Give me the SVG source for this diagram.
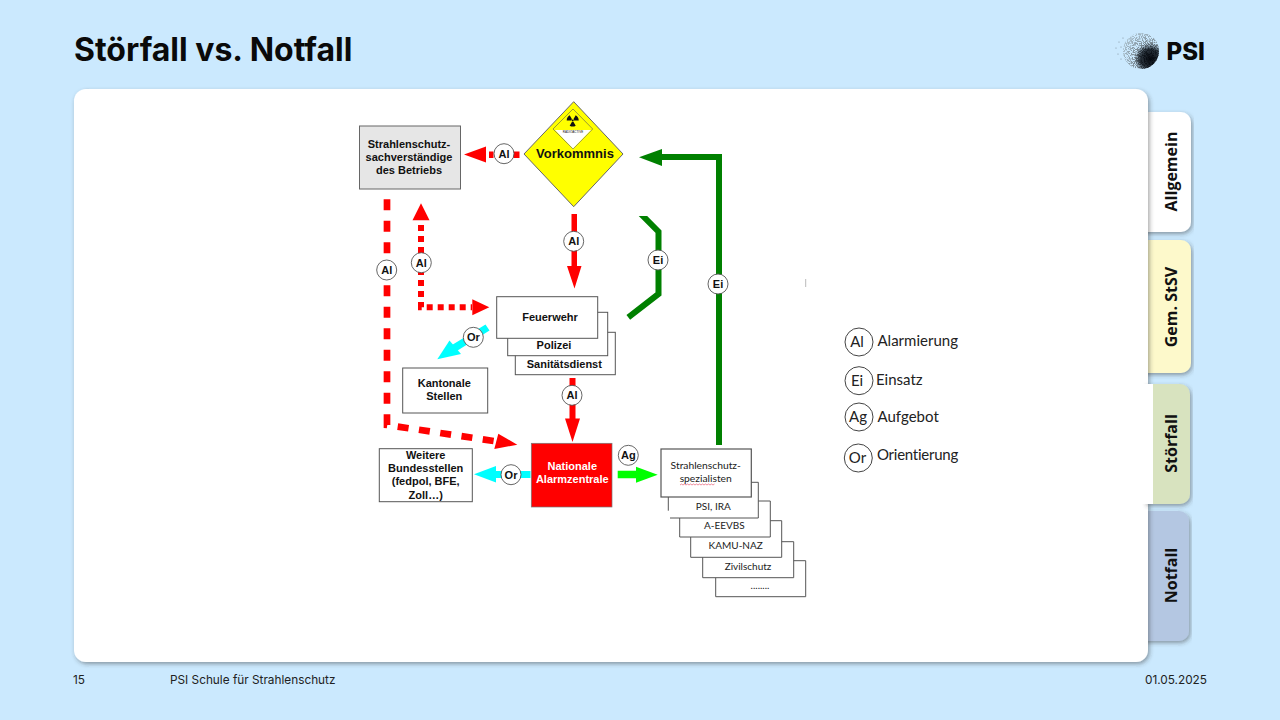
<svg xmlns="http://www.w3.org/2000/svg" width="1280" height="720" viewBox="0 0 1280 720">
<style>
.d{font-family:"Liberation Sans",Arial,sans-serif;font-weight:700;font-size:11px;fill:#111;text-anchor:middle}
.l{font-family:Lato,"Open Sans",sans-serif;fill:#222;font-size:10px;text-anchor:middle}
.leg{font-family:Lato,"Open Sans",sans-serif;fill:#222;font-size:15px}
.legc{font-family:Lato,"Open Sans",sans-serif;fill:#222;font-size:15px;text-anchor:middle}
.tab{font-family:"Open Sans","Noto Sans",sans-serif;font-weight:700;font-size:16px;fill:#111;text-anchor:middle}
.foot{font-family:Inter,"Liberation Sans",sans-serif;font-size:11.8px;fill:#222}
.box{fill:#fff;stroke:#555;stroke-width:1}
.badge{fill:#fff;stroke:#555;stroke-width:.9}
.lc{fill:none;stroke:#444;stroke-width:1}
</style>
<defs>
<filter id="sh" x="-5%" y="-5%" width="110%" height="110%"><feDropShadow dx="1.5" dy="2" stdDeviation="2" flood-color="#333" flood-opacity=".45"/></filter>
<filter id="stipple" x="0" y="0" width="100%" height="100%"><feTurbulence type="fractalNoise" baseFrequency="1.1" numOctaves="1" seed="4"/><feColorMatrix values="0 0 0 0 0 0 0 0 0 0 0 0 0 0 0 0 0 0 9 -4"/><feComposite in="SourceGraphic" operator="in"/></filter>
<radialGradient id="ball" cx=".76" cy=".72" r=".8"><stop offset="0" stop-color="#05080e"/><stop offset=".2" stop-color="#141c24"/><stop offset=".5" stop-color="#76858f"/><stop offset="1" stop-color="#a9bfcc"/></radialGradient>
<radialGradient id="ballcore" cx=".76" cy=".72" r=".45"><stop offset="0" stop-color="#05080e"/><stop offset=".6" stop-color="#10161d" stop-opacity=".85"/><stop offset="1" stop-color="#10161d" stop-opacity="0"/></radialGradient>
<clipPath id="eiclip"><rect x="620" y="216" width="50" height="110"/></clipPath>
<path id="blade" d="M-3 5.2A6 6 0 0 0 3 5.2L.7 1.2A1.4 1.4 0 0 1-.7 1.2Z" fill="#111"/>
</defs>
<rect width="1280" height="720" fill="#cbe9fe"/>
<text x="74" y="61" style="font-family:Inter,'Liberation Sans',sans-serif;font-weight:700;font-size:32px;fill:#0a0a0a">Störfall vs. Notfall</text>
<g id="logo">
<circle cx="1141" cy="51" r="18" fill="url(#ball)" filter="url(#stipple)"/>
<circle cx="1141" cy="51" r="18" fill="url(#ballcore)"/>
<g fill="#7f8f9c"><circle cx="1116" cy="48" r=".6"/><circle cx="1119" cy="42" r=".6"/><circle cx="1118" cy="54" r=".6"/><circle cx="1121" cy="59" r=".6"/><circle cx="1121" cy="47" r=".6"/><circle cx="1123" cy="38" r=".6"/></g>
<text x="1166.5" y="60" style="font-family:Inter,'Liberation Sans',sans-serif;font-weight:800;font-size:24px;fill:#0a0a0a">PSI</text>
</g>
<g id="tabs">
<path d="M1140 112H1181a10 10 0 0 1 10 10V222a10 10 0 0 1-10 10H1140Z" fill="#fff" filter="url(#sh)"/>
<path d="M1140 240H1181a10 10 0 0 1 10 10V363a10 10 0 0 1-10 10H1140Z" fill="#fdf9cb" filter="url(#sh)"/>
<path d="M1140 511H1179a10 10 0 0 1 10 10V631a10 10 0 0 1-10 10H1140Z" fill="#b4c7e2" filter="url(#sh)"/>
<text class="tab" transform="translate(1177 171.5) rotate(-90)">Allgemein</text>
<text class="tab" transform="translate(1177 307) rotate(-90)">Gem. StSV</text>
<text class="tab" transform="translate(1177 575.5) rotate(-90)">Notfall</text>
</g>
<rect id="panel" x="74" y="89" width="1074" height="573" rx="12" fill="#fff" filter="url(#sh)"/>
<g id="tab-stoerfall">
<path d="M1145 384H1180a10 10 0 0 1 10 10V494a10 10 0 0 1-10 10H1145Z" fill="#d8e3bf" filter="url(#sh)"/>
<rect x="1140" y="384" width="13" height="120" fill="#fff"/>
<text class="tab" transform="translate(1177 443.5) rotate(-90)">Störfall</text>
</g>
<g id="connectors">
<g fill="#f00">
<rect x="489" y="151.5" width="4.5" height="6.5"/><rect x="513" y="151.5" width="6.5" height="6.5"/>
<path d="M464 154.5L486 146.5V162.5Z"/>
<path d="M571.5 214H577V266H581.5L574.5 288.5L567 266H571.5Z"/>
<path d="M569.5 378H575.5V418.5H580L572.5 442L565 418.5H569.5Z"/>
<path d="M421 203.3L429.5 220.3H412.5Z"/>
<path d="M489.3 307.3L472.3 299.3V315.3Z"/>
<path d="M517.3 444.7L498.3 433.7L494.3 449Z"/>
</g>
<path d="M387 199.3V425L497 441.5" fill="none" stroke="#f00" stroke-width="6.7" stroke-dasharray="11 10.5"/>
<path d="M421 225V307.3H472" fill="none" stroke="#f00" stroke-width="6" stroke-dasharray="6 5"/>
<g fill="#0ff">
<path d="M485.5 324.5L452 345L456 351.5L489.5 330.5Z"/>
<path d="M437.3 359.3L461 354L449.5 340.5Z"/>
<path d="M474 474.3L496 466V471H530.5V478H496V482.5Z"/>
</g>
<path d="M617.7 470.7H636V466.7L657.7 474.7L636 482.7V478.3H617.7Z" fill="#0f0"/>
<g fill="none" stroke="#008000" stroke-width="6">
<path d="M719 445V157H660"/>
<path d="M638 211L658.5 231.7V294L628.3 317.3" clip-path="url(#eiclip)"/>
</g>
<path d="M639 157.3L662 149V166Z" fill="#008000"/>
<path d="M805.7 279V287" stroke="#bbb" stroke-width="1"/>
</g>
<g id="node-vorkommnis">
<path d="M573.7 101.7L623 154L573.7 206.7L524 154Z" fill="#ff0" stroke="#666"/>
<path d="M573 109L592.7 129L573 149L553 129Z" fill="#ff0" stroke="#555" stroke-width=".6"/>
<path d="M555 130H591L573 148.5Z" fill="#fff"/>
<g transform="translate(572.7 120.5)"><use href="#blade"/><use href="#blade" transform="rotate(120)"/><use href="#blade" transform="rotate(240)"/><circle r="1" fill="#111"/></g>
<text class="d" x="573" y="133" style="font-size:3px;font-weight:400">RADIOACTIVE</text>
<text class="d" x="575" y="157.7" style="font-size:13px">Vorkommnis</text>
</g>
<g id="node-sachverstaendige">
<rect x="359.5" y="126" width="101" height="63" fill="#e6e6e6" stroke="#666"/>
<text class="d" x="409" y="148.3">Strahlenschutz-</text>
<text class="d" x="409" y="161.3">sachverständige</text>
<text class="d" x="409" y="174">des Betriebs</text>
</g>
<g id="node-sanitaet"><rect class="box" x="515.3" y="332.3" width="100" height="42.4"/><text class="d" x="564.3" y="368.3">Sanitätsdienst</text></g>
<g id="node-polizei"><rect class="box" x="507.7" y="312.3" width="100" height="43.4"/><text class="d" x="554" y="349">Polizei</text></g>
<g id="node-feuerwehr"><rect class="box" x="496.7" y="296.7" width="101" height="41.6"/><text class="d" x="550" y="320.7">Feuerwehr</text></g>
<g id="node-kantonale"><rect class="box" x="402.7" y="368" width="85" height="45"/><text class="d" x="444.3" y="386.7">Kantonale</text><text class="d" x="444.3" y="400">Stellen</text></g>
<g id="node-bund"><rect class="box" x="379.3" y="448.7" width="93" height="53"/>
<text class="d" x="425.7" y="459.3">Weitere</text><text class="d" x="425.7" y="472">Bundesstellen</text><text class="d" x="425.7" y="485.3">(fedpol, BFE,</text><text class="d" x="425.7" y="498.7">Zoll…)</text></g>
<g id="node-naz"><rect x="531.3" y="443.3" width="80.7" height="63.7" fill="#f00" stroke="#777" stroke-width=".7"/>
<text class="d" x="572.3" y="470" style="fill:#fff">Nationale</text><text class="d" x="572.3" y="482.7" style="fill:#fff">Alarmzentrale</text></g>
<g id="node-stack">
<path d="M715.7 596.7V560.7H805.7V596.7Z" class="box"/><text class="l" x="760" y="588.7">........</text>
<path class="box" d="M702.7 541.7H793.7V577.7H702.7Z"/><text class="l" x="748" y="569.7">Zivilschutz</text>
<path class="box" d="M690.7 520.7H781.7V557.3H690.7Z"/><text class="l" x="735.7" y="549">KAMU-NAZ</text>
<path class="box" d="M679.7 501H770.3V537H679.7Z"/><text class="l" x="724.3" y="529">A-EEVBS</text>
<path d="M668.3 482.3H758.3V518H670M668.3 482.3V510.7" fill="#fff" stroke="#555"/><text class="l" x="713.3" y="510">PSI, IRA</text>
<rect class="box" x="661" y="449" width="90.3" height="48" style="stroke-width:1.2"/>
<text class="l" x="705.7" y="469" style="font-size:10.3px">Strahlenschutz-</text><text class="l" x="705.7" y="482" style="font-size:10.3px">spezialisten</text>
<path d="M680 485l1.5-1 1.5 1 1.5-1 1.5 1 1.5-1 1.5 1 1.5-1 1.5 1 1.5-1 1.5 1 1.5-1 1.5 1 1.5-1 1.5 1 1.5-1 1.5 1 1.5-1 1.5 1 1.5-1 1.5 1 1.5-1 1.5 1 1.5-1" fill="none" stroke="#e0405a" stroke-width=".6"/>
</g>
<g id="badges">
<g><circle class="badge" cx="504" cy="153.7" r="10"/><text class="d" x="504" y="157.7">Al</text></g>
<g><circle class="badge" cx="573.7" cy="241.3" r="10"/><text class="d" x="573.7" y="245.3">Al</text></g>
<g><circle class="badge" cx="386.7" cy="270" r="10"/><text class="d" x="386.7" y="274">Al</text></g>
<g><circle class="badge" cx="421.3" cy="262.7" r="10"/><text class="d" x="421.3" y="266.7">Al</text></g>
<g><circle class="badge" cx="473.3" cy="337.3" r="10"/><text class="d" x="473.3" y="341.3">Or</text></g>
<g><circle class="badge" cx="572" cy="395.3" r="10"/><text class="d" x="572" y="399.3">Al</text></g>
<g><circle class="badge" cx="511" cy="474.7" r="10"/><text class="d" x="511" y="478.7">Or</text></g>
<g><circle class="badge" cx="628.3" cy="455.3" r="10"/><text class="d" x="628.3" y="459.3">Ag</text></g>
<g><circle class="badge" cx="658" cy="260" r="10"/><text class="d" x="658" y="264">Ei</text></g>
<g><circle class="badge" cx="718" cy="284" r="10"/><text class="d" x="718" y="288">Ei</text></g>
</g>
<g id="legend">
<circle class="lc" cx="859" cy="342" r="14"/><text class="legc" x="857" y="347">Al</text><text class="leg" x="877.5" y="346">Alarmierung</text>
<circle class="lc" cx="859" cy="380.7" r="14"/><text class="legc" x="857" y="386">Ei</text><text class="leg" x="876" y="385">Einsatz</text>
<circle class="lc" cx="859" cy="417" r="14"/><text class="legc" x="858" y="422">Ag</text><text class="leg" x="877.5" y="422">Aufgebot</text>
<circle class="lc" cx="858.3" cy="458" r="14"/><text class="legc" x="857.5" y="463">Or</text><text class="leg" x="877" y="460" style="letter-spacing:-.25px">Orientierung</text>
</g>
<g id="footer">
<text class="foot" x="73" y="684">15</text>
<text class="foot" x="170" y="684">PSI Schule für Strahlenschutz</text>
<text class="foot" x="1207" y="684" text-anchor="end">01.05.2025</text>
</g>
</svg>
